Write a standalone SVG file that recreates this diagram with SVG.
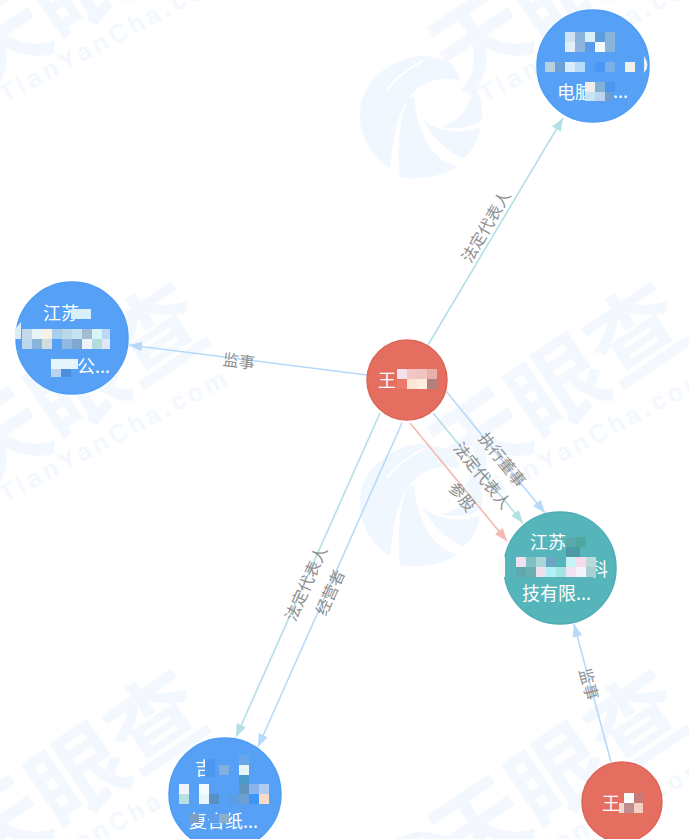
<svg xmlns="http://www.w3.org/2000/svg" width="689" height="839" viewBox="0 0 689 839">
<style>
.wm{font-family:"Noto Sans CJK SC","Liberation Sans",sans-serif;font-size:94px;font-weight:700;fill:#f3f8fe}
.wm2{font-family:"Liberation Sans",sans-serif;font-size:25px;font-weight:700;letter-spacing:4px;fill:#f3f8fe}
.logo{fill:#f1f7fe}
.lnb{stroke:#b7dafb;stroke-width:1.6;fill:none;marker-end:url(#ab)}
.lnt{stroke:#b2e0e6;stroke-width:1.6;fill:none;marker-end:url(#at)}
.lnr{stroke:#f5b9b1;stroke-width:1.6;fill:none;marker-end:url(#ar)}
.lb{font-family:"Noto Sans CJK SC",sans-serif;font-size:16px;fill:#8f8f8f;text-anchor:middle;dominant-baseline:central}
.nt{font-family:"Noto Sans CJK SC",sans-serif;font-size:18px;fill:#fff;text-anchor:start}
.blue{fill:#56a1f6;stroke:#4d9cf6;stroke-width:1.5}
.teal{fill:#56b4bb;stroke:#4fadb5;stroke-width:1.5}
.red{fill:#e46f61;stroke:#dd6558;stroke-width:1.5}
</style>
<defs>
<marker id="ab" markerUnits="userSpaceOnUse" markerWidth="14" markerHeight="12" refX="13" refY="6" orient="auto"><path d="M0 1L13 6L0 11Z" fill="#b7dafb"/></marker>
<marker id="at" markerUnits="userSpaceOnUse" markerWidth="14" markerHeight="12" refX="13" refY="6" orient="auto"><path d="M0 1L13 6L0 11Z" fill="#b2e0e6"/></marker>
<marker id="ar" markerUnits="userSpaceOnUse" markerWidth="14" markerHeight="12" refX="13" refY="6" orient="auto"><path d="M0 1L13 6L0 11Z" fill="#f5b9b1"/></marker>
<g id="mark">
<text class="wm" transform="translate(-20 494) rotate(-34)">天眼查</text>
<text class="wm2" transform="translate(5 503) rotate(-28)">TianYanCha.com</text>
</g>
<g id="logo" class="logo" transform="translate(340 40) scale(.3333)">
<path d="M240 47C140 60 60 130 60 225C60 290 95 350 150 385C152 290 172 210 215 160C245 125 290 90 320 62C295 55 265 48 240 47Z"/>
<path d="M140 152C175 105 235 68 300 60C335 60 355 90 360 125C320 105 260 120 222 155C195 180 165 230 150 385C150 290 160 190 195 150Z" fill="#f1f7fe"/>
<path d="M140 150C165 115 205 85 250 62" fill="none" stroke="#fff" stroke-width="7"/>
<path d="M205 175C178 230 170 330 180 410C240 422 310 410 355 378C290 370 235 300 222 170Z"/>
<path d="M250 240C280 300 330 340 370 355C400 330 415 300 420 262C380 282 300 280 250 240Z"/>
<path d="M400 130C395 200 360 250 300 260C350 270 400 262 426 240C430 200 420 160 400 130Z"/>
</g>
</defs>
<rect width="689" height="839" fill="#fff"/>
<g id="watermark">
<use href="#mark" x="0" y="-400"/>
<use href="#mark" x="480" y="-400"/>
<use href="#mark" x="0" y="0"/>
<use href="#mark" x="480" y="0"/>
<use href="#mark" x="0" y="388"/>
<use href="#mark" x="480" y="388"/>
<use href="#logo"/>
<use href="#logo" y="388"/>
<use href="#logo" y="776"/>
</g>
<g id="connectors">
<line class="lnt" x1="428" y1="345" x2="563" y2="118"/>
<line class="lnb" x1="367" y1="375" x2="129" y2="345"/>
<line class="lnb" x1="446" y1="391" x2="545" y2="513"/>
<line class="lnt" x1="433" y1="413" x2="523" y2="523"/>
<line class="lnr" x1="410" y1="423" x2="507" y2="541"/>
<line class="lnt" x1="380" y1="413" x2="236" y2="737"/>
<line class="lnb" x1="402" y1="423" x2="258" y2="747"/>
<line class="lnb" x1="611" y1="762" x2="574" y2="624"/>
<text class="lb" transform="translate(485 226) rotate(-59.5)">法定代表人</text>
<text class="lb" transform="translate(239 360) rotate(7)">监事</text>
<text class="lb" transform="translate(503 459) rotate(51)">执行董事</text>
<text class="lb" transform="translate(483 475) rotate(51)">法定代表人</text>
<text class="lb" transform="translate(463 496) rotate(51)">参股</text>
<text class="lb" transform="translate(305 583) rotate(-66)">法定代表人</text>
<text class="lb" transform="translate(329 592) rotate(-66)">经营者</text>
<text class="lb" transform="translate(590 684) rotate(75)">监事</text>
</g>
<g id="node-top">
<circle class="blue" cx="593" cy="66" r="56"/>
<text class="nt" x="557" y="99">电脑</text>
<text class="nt" x="613" y="98">...</text>
<g>
<rect x="565" y="32" width="10" height="10" fill="#cfe2f6"/><rect x="575" y="32" width="10" height="10" fill="#8ab4dc"/><rect x="585" y="32" width="10" height="10" fill="#d8f0fa"/><rect x="595" y="32" width="10" height="10" fill="#5b9ee0"/><rect x="605" y="32" width="10" height="10" fill="#8ab5d8"/>
<rect x="565" y="42" width="10" height="10" fill="#e2eefb"/><rect x="575" y="42" width="10" height="10" fill="#8fb5dc"/><rect x="585" y="42" width="10" height="10" fill="#5a9ae8"/><rect x="595" y="42" width="10" height="10" fill="#f3f9ff"/><rect x="605" y="42" width="10" height="10" fill="#8ab5d8"/>
<rect x="545" y="62" width="10" height="10" fill="#b8cfe0"/><rect x="555" y="62" width="10" height="10" fill="#6aa0d8"/><rect x="565" y="62" width="10" height="10" fill="#d8ecff"/><rect x="575" y="62" width="10" height="10" fill="#b8dcf8"/><rect x="595" y="62" width="10" height="10" fill="#4a96f4"/><rect x="605" y="62" width="10" height="10" fill="#79b0ea"/><rect x="625" y="62" width="10" height="10" fill="#f0f0ea"/>
<rect x="585" y="82" width="10" height="10" fill="#f0ece8"/><rect x="595" y="82" width="10" height="10" fill="#7fb0d8"/><rect x="605" y="82" width="10" height="10" fill="#4a96f0"/><rect x="585" y="92" width="10" height="9" fill="#c5e4f2"/><rect x="595" y="92" width="10" height="9" fill="#bcd4f0"/><rect x="605" y="92" width="6" height="9" fill="#6f9fc8"/>
<path d="M644 56Q651 66 644 73Z" fill="#e8f2fb"/>
</g>
</g>
<g id="node-left">
<circle class="blue" cx="72" cy="338" r="56"/>
<text class="nt" x="43" y="320">江苏</text>
<text class="nt" x="77" y="373">公...</text>
<g>
<rect x="71" y="309" width="20" height="10" fill="#d8eefb"/>
<rect x="22" y="329" width="10" height="10" fill="#c3d8e8"/><rect x="32" y="329" width="10" height="10" fill="#e8f4fc"/><rect x="42" y="329" width="10" height="10" fill="#f5f2e4"/><rect x="52" y="329" width="10" height="10" fill="#a9cdec"/><rect x="62" y="329" width="10" height="10" fill="#b9d8ea"/><rect x="72" y="329" width="10" height="10" fill="#c7e2f0"/><rect x="82" y="329" width="10" height="10" fill="#a2bdd0"/><rect x="92" y="329" width="10" height="10" fill="#d9f4f8"/><rect x="102" y="329" width="8" height="10" fill="#bcd8f5"/>
<rect x="22" y="339" width="10" height="10" fill="#bcd6ec"/><rect x="32" y="339" width="10" height="10" fill="#8ab5d8"/><rect x="42" y="339" width="10" height="10" fill="#d2dbe0"/><rect x="62" y="339" width="10" height="10" fill="#90b8e0"/><rect x="72" y="339" width="10" height="10" fill="#7fa8d0"/><rect x="82" y="339" width="10" height="10" fill="#eef2fa"/><rect x="92" y="339" width="10" height="10" fill="#b5dcdc"/><rect x="102" y="339" width="8" height="10" fill="#dfe8f8"/>
<rect x="51" y="359" width="27" height="10" fill="#e6f5fc"/><rect x="51" y="369" width="10" height="8" fill="#b8d4f2"/><rect x="61" y="369" width="10" height="8" fill="#4a8fdc"/>
<path d="M15 329L21 322V339H15Z" fill="#dcecf8"/>
</g>
</g>
<g id="node-center">
<circle class="red" cx="407" cy="380" r="40"/>
<text class="nt" x="378" y="387">王</text>
<g>
<rect x="397" y="369" width="10" height="10" fill="#f5e0ee"/><rect x="407" y="369" width="10" height="10" fill="#f3c6c4"/><rect x="417" y="369" width="10" height="10" fill="#f0c2c0"/><rect x="427" y="369" width="10" height="10" fill="#e9b0a8"/>
<rect x="397" y="379" width="10" height="10" fill="#ec7a6a"/><rect x="407" y="379" width="10" height="10" fill="#fbe6d8"/><rect x="417" y="379" width="10" height="10" fill="#fdeee0"/><rect x="427" y="379" width="10" height="10" fill="#b38080"/>
</g>
</g>
<g id="node-teal">
<circle class="teal" cx="560" cy="568" r="56"/>
<text class="nt" x="530" y="549">江苏</text>
<text class="nt" x="590" y="576">科</text>
<text class="nt" x="522" y="600">技有限...</text>
<g>
<rect x="497" y="557" width="8" height="20" fill="#fcfcf6"/>
<rect x="516" y="557" width="10" height="10" fill="#f0e0f2"/><rect x="526" y="557" width="10" height="10" fill="#7fc0c4"/><rect x="536" y="557" width="10" height="10" fill="#a9d8d8"/><rect x="546" y="557" width="10" height="10" fill="#6ea4c4"/><rect x="566" y="557" width="10" height="10" fill="#c4f4f8"/><rect x="576" y="557" width="10" height="10" fill="#f4dcec"/><rect x="586" y="557" width="10" height="10" fill="#b8dcdc"/>
<rect x="516" y="567" width="10" height="10" fill="#60a8ac"/><rect x="526" y="567" width="10" height="10" fill="#68b0b4"/><rect x="536" y="567" width="10" height="10" fill="#f0e0ec"/><rect x="546" y="567" width="10" height="10" fill="#b0f0f8"/><rect x="556" y="567" width="10" height="10" fill="#a4e4e4"/><rect x="566" y="567" width="10" height="10" fill="#f2e2f2"/><rect x="576" y="567" width="10" height="10" fill="#f4f4fa"/><rect x="586" y="567" width="10" height="10" fill="#a8d0d4"/>
<rect x="566" y="537" width="10" height="10" fill="#58a8ac"/><rect x="576" y="537" width="10" height="10" fill="#4ea8a0"/><rect x="566" y="547" width="14" height="10" fill="#4e9aa4"/>
</g>
</g>
<g id="node-bottom">
<circle class="blue" cx="225" cy="794" r="56"/>
<text class="nt" x="195" y="775">吉</text>
<text class="nt" x="189" y="828">复合纸...</text>
<g>
<rect x="205" y="759" width="10" height="18" fill="#4d97ee"/><rect x="219" y="765" width="10" height="10" fill="#84ade0"/><rect x="239" y="755" width="10" height="10" fill="#68a8e8"/><rect x="239" y="765" width="10" height="10" fill="#e8f5f8"/><rect x="239" y="775" width="10" height="10" fill="#4a9cc8"/>
<rect x="179" y="784" width="10" height="10" fill="#f0f4fa"/><rect x="199" y="784" width="10" height="10" fill="#f4fafd"/><rect x="239" y="784" width="10" height="10" fill="#6095c0"/><rect x="249" y="784" width="10" height="10" fill="#88b4f0"/><rect x="259" y="784" width="10" height="10" fill="#b0ccf0"/>
<rect x="179" y="794" width="10" height="10" fill="#b8e0e0"/><rect x="199" y="794" width="10" height="10" fill="#e8f6fc"/><rect x="209" y="794" width="10" height="10" fill="#5590c8"/><rect x="229" y="794" width="10" height="10" fill="#5c9ce0"/><rect x="239" y="794" width="10" height="10" fill="#6ca0d0"/><rect x="249" y="794" width="10" height="10" fill="#3f94f8"/><rect x="259" y="794" width="10" height="10" fill="#f8dcc8"/>
<rect x="189" y="814" width="10" height="9" fill="#7d9fc4"/><rect x="209" y="814" width="10" height="9" fill="#5ea0ee"/><rect x="219" y="814" width="10" height="9" fill="#8cb0c8"/>
</g>
</g>
<g id="node-red2">
<circle class="red" cx="622" cy="802" r="40"/>
<text class="nt" x="602" y="810">王</text>
<g>
<rect x="624" y="793" width="10" height="10" fill="#fdfafa"/><rect x="634" y="793" width="9" height="10" fill="#c77a78"/>
<rect x="619" y="803" width="5" height="10" fill="#f8d8cc"/><rect x="624" y="803" width="10" height="10" fill="#bf8c90"/><rect x="634" y="803" width="9" height="10" fill="#f5cfc4"/>
</g>
</g>
</svg>
